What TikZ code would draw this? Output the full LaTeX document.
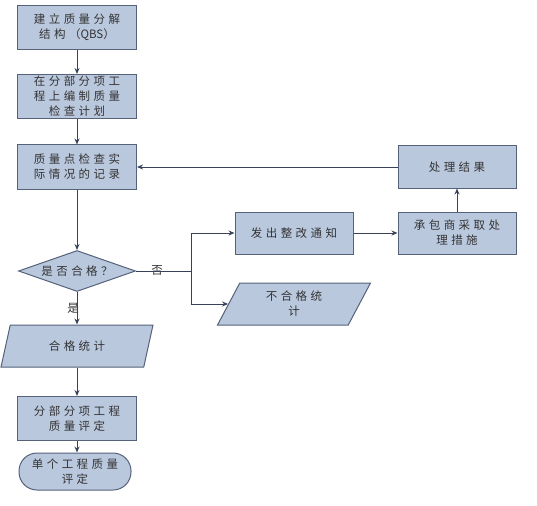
\documentclass[tikz,border=0pt]{standalone}
\usepackage{fontspec}
\newfontfamily\cjk[LetterSpace=30]{Noto Sans CJK SC}
\newfontfamily\cjkn{Noto Sans CJK SC}
\usetikzlibrary{shapes.geometric,arrows.meta}
\definecolor{boxfill}{RGB}{186,200,222}
\definecolor{boxdraw}{RGB}{85,98,122}
\definecolor{linec}{RGB}{55,66,90}
\begin{document}
\begin{tikzpicture}[x=1pt,y=-1pt,
  txt/.style={font=\cjk\fontsize{11.5}{15}\selectfont, text=black!80, align=center},
  box/.style={txt, draw=boxdraw, fill=boxfill, line width=1pt, minimum width=119pt, minimum height=44pt, inner sep=0pt},
  dia/.style={draw=boxdraw, fill=boxfill, line width=1pt, diamond, minimum width=117pt, minimum height=41pt, inner sep=0pt},
  para/.style={txt, draw=boxdraw, fill=boxfill, line width=1pt, trapezium, trapezium left angle=49, trapezium right angle=131, trapezium stretches body, minimum width=152pt, minimum height=42pt, inner sep=0pt},
  term/.style={txt, draw=boxdraw, fill=boxfill, line width=1pt, rounded corners=18pt, minimum width=112pt, minimum height=37pt, inner sep=0pt},
  conn/.style={draw=linec, line width=1pt, -{Stealth[length=6pt,width=5pt]}},
  plain/.style={draw=linec, line width=1pt}
]
\useasboundingbox (0,0) rectangle (537,505);
\node[box] (b1) at (77,27.5) {建立质量分解\\结构（{\cjkn QBS}）};
\node[box] (b2) at (77,96.5) {在分部分项工\\程上编制质量\\检查计划};
\node[box] (b3) at (77,167) {质量点检查实\\际情况的记录};
\node[dia] (d) at (77,271) {};
\node[txt] (dt) at (77,271) {是否合格？};
\node[para] (p1) at (77,346) {合格统计};
\node[box] (b5) at (77,418.5) {分部分项工程\\质量评定};
\node[term] (t) at (75,471.5) {单个工程质量\\评定};
\node[box, minimum width=118pt, minimum height=42pt] (n) at (294,233) {发出整改通知};
\node[box, minimum width=118pt, minimum height=42pt] (c) at (457,233) {承包商采取处\\理措施};
\node[box, minimum width=118pt, minimum height=42pt] (r) at (457,167) {处理结果};
\node[para, minimum width=153pt] (p2) at (294,304) {不合格统\\计};
\node[txt] (no) at (157,270) {否};
\node[txt] (yes) at (73,308) {是};
\coordinate (j) at (191,271);
\draw[conn] (b1) -- (b2);
\draw[conn] (b2) -- (b3);
\draw[conn] (b3) -- (d);
\draw[conn] (d) -- (p1);
\draw[conn] (p1) -- (b5);
\draw[conn] (b5.south) -- (b5.south |- t.north);
\draw[plain] (d.east) -- (j);
\draw[conn] (j) |- (n.west);
\draw[conn] (j) |- (p2.west);
\draw[conn] (n) -- (c);
\draw[conn] (c) -- (r);
\draw[conn] (r) -- (b3);
\end{tikzpicture}
\end{document}
